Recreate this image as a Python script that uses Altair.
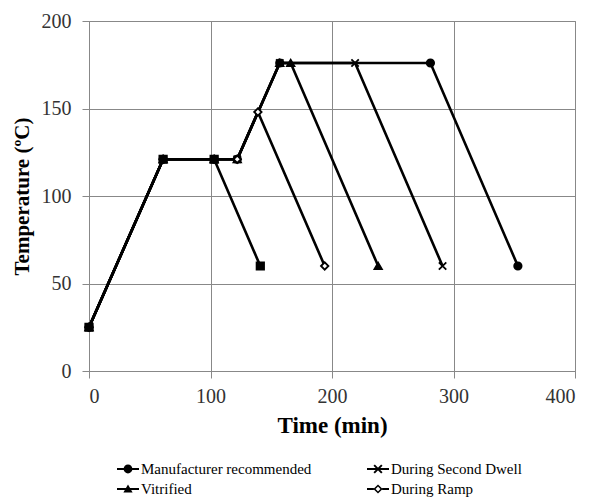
import altair as alt
import pandas as pd

# Cure-cycle interruption profiles: time (min) vs temperature (°C)
series_names = [
    "Manufacturer recommended",
    "During Second Dwell",
    "Vitrified",
    "During Ramp",
    "Gelled",
]
manufacturer_time = [0, 61, 103, 122, 157, 281, 353]
manufacturer_temp = [25, 121, 121, 121, 176, 176, 60]
second_dwell_time = [0, 61, 103, 122, 157, 219, 291]
second_dwell_temp = [25, 121, 121, 121, 176, 176, 60]
vitrified_time = [0, 61, 103, 122, 157, 166, 238]
vitrified_temp = [25, 121, 121, 121, 176, 176, 60]
ramp_time = [0, 61, 103, 122, 139, 194]
ramp_temp = [25, 121, 121, 121, 148, 60]
gelled_time = [0, 61, 103, 141]
gelled_temp = [25, 121, 121, 60]

legend_names = series_names[:4]
x_ticks = [0, 100, 200, 300, 400]
y_ticks = [0, 50, 100, 150, 200]

rows = []
for name, ts, vs in [
    (series_names[0], manufacturer_time, manufacturer_temp),
    (series_names[1], second_dwell_time, second_dwell_temp),
    (series_names[2], vitrified_time, vitrified_temp),
    (series_names[3], ramp_time, ramp_temp),
    (series_names[4], gelled_time, gelled_temp),
]:
    for i, (t, v) in enumerate(zip(ts, vs)):
        rows.append({"series": name, "step": i, "time": t, "temp": v})
df = pd.DataFrame(rows)

SERIF = "Liberation Serif"
X_PATH = "M-1,-1L1,1M-1,1L1,-1"

x_enc = alt.X(
    "time:Q",
    scale=alt.Scale(domain=[0, 400], nice=False),
    axis=alt.Axis(values=x_ticks, title="Time (min)", titleFontSize=23,
                  labelPadding=8, titlePadding=8),
)
y_enc = alt.Y(
    "temp:Q",
    scale=alt.Scale(domain=[0, 200], nice=False),
    axis=alt.Axis(values=y_ticks, title="Temperature (ºC)", titleFontSize=21,
                  labelPadding=11, titlePadding=9),
)

lines = alt.Chart(df).mark_line(color="black", strokeWidth=2.6).encode(
    x=x_enc, y=y_enc, detail="series:N", order="step:Q"
)

points = alt.Chart(df).mark_point(
    filled=True, stroke="black", strokeWidth=1.8, opacity=1
).encode(
    x=x_enc,
    y=y_enc,
    shape=alt.Shape(
        "series:N",
        scale=alt.Scale(
            domain=series_names,
            range=["circle", X_PATH, "triangle-up", "diamond", "square"],
        ),
        legend=None,
    ),
    fill=alt.Fill(
        "series:N",
        scale=alt.Scale(
            domain=series_names,
            range=["black", "black", "black", "white", "black"],
        ),
        legend=None,
    ),
    size=alt.value(55),
)

# legend symbols: a short line segment with the series marker on it,
# drawn as filled outlines (all sub-paths wound the same way)
seg = "M-1,-0.09H1V0.09H-1Z"
legend_shapes = [
    seg + "M0.4,0A0.4,0.4 0 1,1 -0.4,0A0.4,0.4 0 1,1 0.4,0Z",
    seg
    + "M-0.286,-0.414L0.414,0.286L0.286,0.414L-0.414,-0.286Z"
    + "M-0.286,0.414L-0.414,0.286L0.286,-0.414L0.414,-0.286Z",
    seg + "M0,-0.42L0.42,0.32L-0.42,0.32Z",
    "M-1,-0.09H-0.38V0.09H-1ZM0.38,-0.09H1V0.09H0.38Z"
    + "M0,-0.42L0.42,0L0,0.42L-0.42,0ZM0,-0.22L-0.22,0L0,0.22L0.22,0Z",
]

legend_layer = (
    alt.Chart(df)
    .transform_filter("datum.step < 0")
    .mark_point(filled=True, opacity=1)
    .encode(
        x=x_enc,
        y=y_enc,
        fill=alt.value("black"),
        shape=alt.Shape(
            "series:N",
            title=None,
            scale=alt.Scale(domain=legend_names, range=legend_shapes),
            legend=alt.Legend(
                title=None,
                orient="none",
                direction="horizontal",
                legendX=27,
                legendY=436,
                columns=2,
                columnPadding=52,
                rowPadding=-3,
                symbolSize=484,
                symbolFillColor="black",
                symbolOpacity=1,
                labelFont=SERIF,
                labelFontSize=15,
                labelColor="black",
                labelOffset=1,
                labelLimit=400,
            ),
        ),
    )
)

chart = (
    alt.layer(lines, points, legend_layer)
    .resolve_scale(shape="independent")
    .properties(
        width=486,
        height=350,
        autosize=alt.AutoSizeParams(type="none"),
        padding={"left": 89, "top": 21, "right": 33, "bottom": 127},
    )
    .configure_view(stroke="#888888", strokeWidth=1)
    .configure_axis(
        grid=True,
        gridColor="#888888",
        gridWidth=1,
        domainColor="#888888",
        tickColor="#888888",
        tickSize=7,
        labelFont=SERIF,
        labelFontSize=20,
        labelColor="#333333",
        titleFont=SERIF,
        titleFontWeight="bold",
        titleColor="black",
    )
)

chart.save("out.html", embed_options={"renderer": "svg", "actions": False})
